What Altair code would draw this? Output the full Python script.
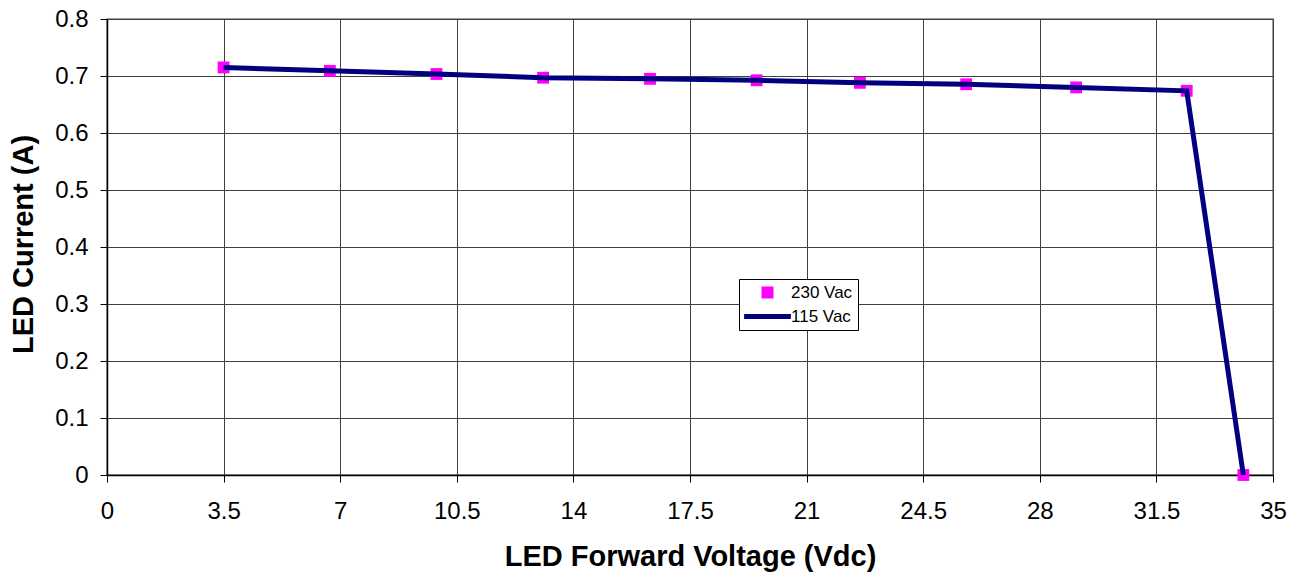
import altair as alt
import pandas as pd

voltage_230 = [3.5, 6.69, 9.89, 13.09, 16.30, 19.50, 22.60, 25.79, 29.09, 32.41, 34.11]
current_230 = [0.715, 0.709, 0.7035, 0.697, 0.695, 0.6925, 0.688, 0.6855, 0.680, 0.674, 0.0]
voltage_115 = [3.5, 6.69, 9.89, 13.09, 16.30, 19.50, 22.60, 25.79, 29.09, 32.41, 34.11]
current_115 = [0.715, 0.709, 0.7035, 0.697, 0.695, 0.6925, 0.688, 0.6855, 0.680, 0.674, 0.0]
series_names = ["230 Vac", "115 Vac"]
series_colors = ["#FF00FF", "#000080"]
x_ticks = [0, 3.5, 7, 10.5, 14, 17.5, 21, 24.5, 28, 31.5, 35]
y_ticks = [0, 0.1, 0.2, 0.3, 0.4, 0.5, 0.6, 0.7, 0.8]

df230 = pd.DataFrame({"v": voltage_230, "i": current_230, "series": series_names[0]})
df115 = pd.DataFrame({"v": voltage_115, "i": current_115, "series": series_names[1]})

FONT = "Liberation Sans"

x_enc = alt.X("v:Q", scale=alt.Scale(domain=[0, 35], nice=False),
              axis=alt.Axis(values=x_ticks, labelExpr="'' + datum.value", title="LED Forward Voltage (Vdc)",
                            labelFontSize=24, labelPadding=17, tickSize=7,
                            titleFontSize=29, titlePadding=19, labelFlush=False))
y_enc = alt.Y("i:Q", scale=alt.Scale(domain=[0, 0.8], nice=False),
              axis=alt.Axis(values=y_ticks, labelExpr="'' + datum.value", title="LED Current (A)",
                            labelFontSize=24, labelPadding=12, tickSize=7,
                            titleFontSize=29, titlePadding=16, titleY=225, labelFlush=False))

points = alt.Chart(df230).mark_point(filled=True, opacity=1, size=140).encode(
    x=x_enc,
    y=y_enc,
    color=alt.Color("series:N", scale=alt.Scale(domain=series_names, range=series_colors),
                    legend=alt.Legend(title=None, orient="none", legendX=632, legendY=260,
                                      fillColor="white", strokeColor="black", padding=5,
                                      labelFontSize=17, labelFont=FONT, symbolSize=144,
                                      symbolOffset=15, labelOffset=15, rowPadding=6,
                                      symbolStrokeWidth=0)),
    shape=alt.Shape("series:N", scale=alt.Scale(domain=series_names,
                                               range=["square", "M-3.9,-0.42H3.9V0.42H-3.9Z"])),
)

line = alt.Chart(df115).mark_line(color="#000080", strokeWidth=5).encode(
    x="v:Q", y="i:Q"
)

chart = alt.layer(points, line).properties(
    width=1166, height=456,
    autosize=alt.AutoSizeParams(type="none"),
    padding={"left": 107, "top": 19, "right": 27, "bottom": 104},
).configure(font=FONT).configure_axis(
    gridColor="#404040", gridWidth=1, gridOpacity=1,
    domainColor="#000000", domainWidth=1.5, tickColor="#000000", tickWidth=1,
    labelColor="#000000", titleColor="#000000", labelFont=FONT, titleFont=FONT,
    titleFontWeight="bold",
).configure_view(stroke="#808080", strokeWidth=1.5)

chart.save("out.html", embed_options={"renderer": "svg", "actions": False})
